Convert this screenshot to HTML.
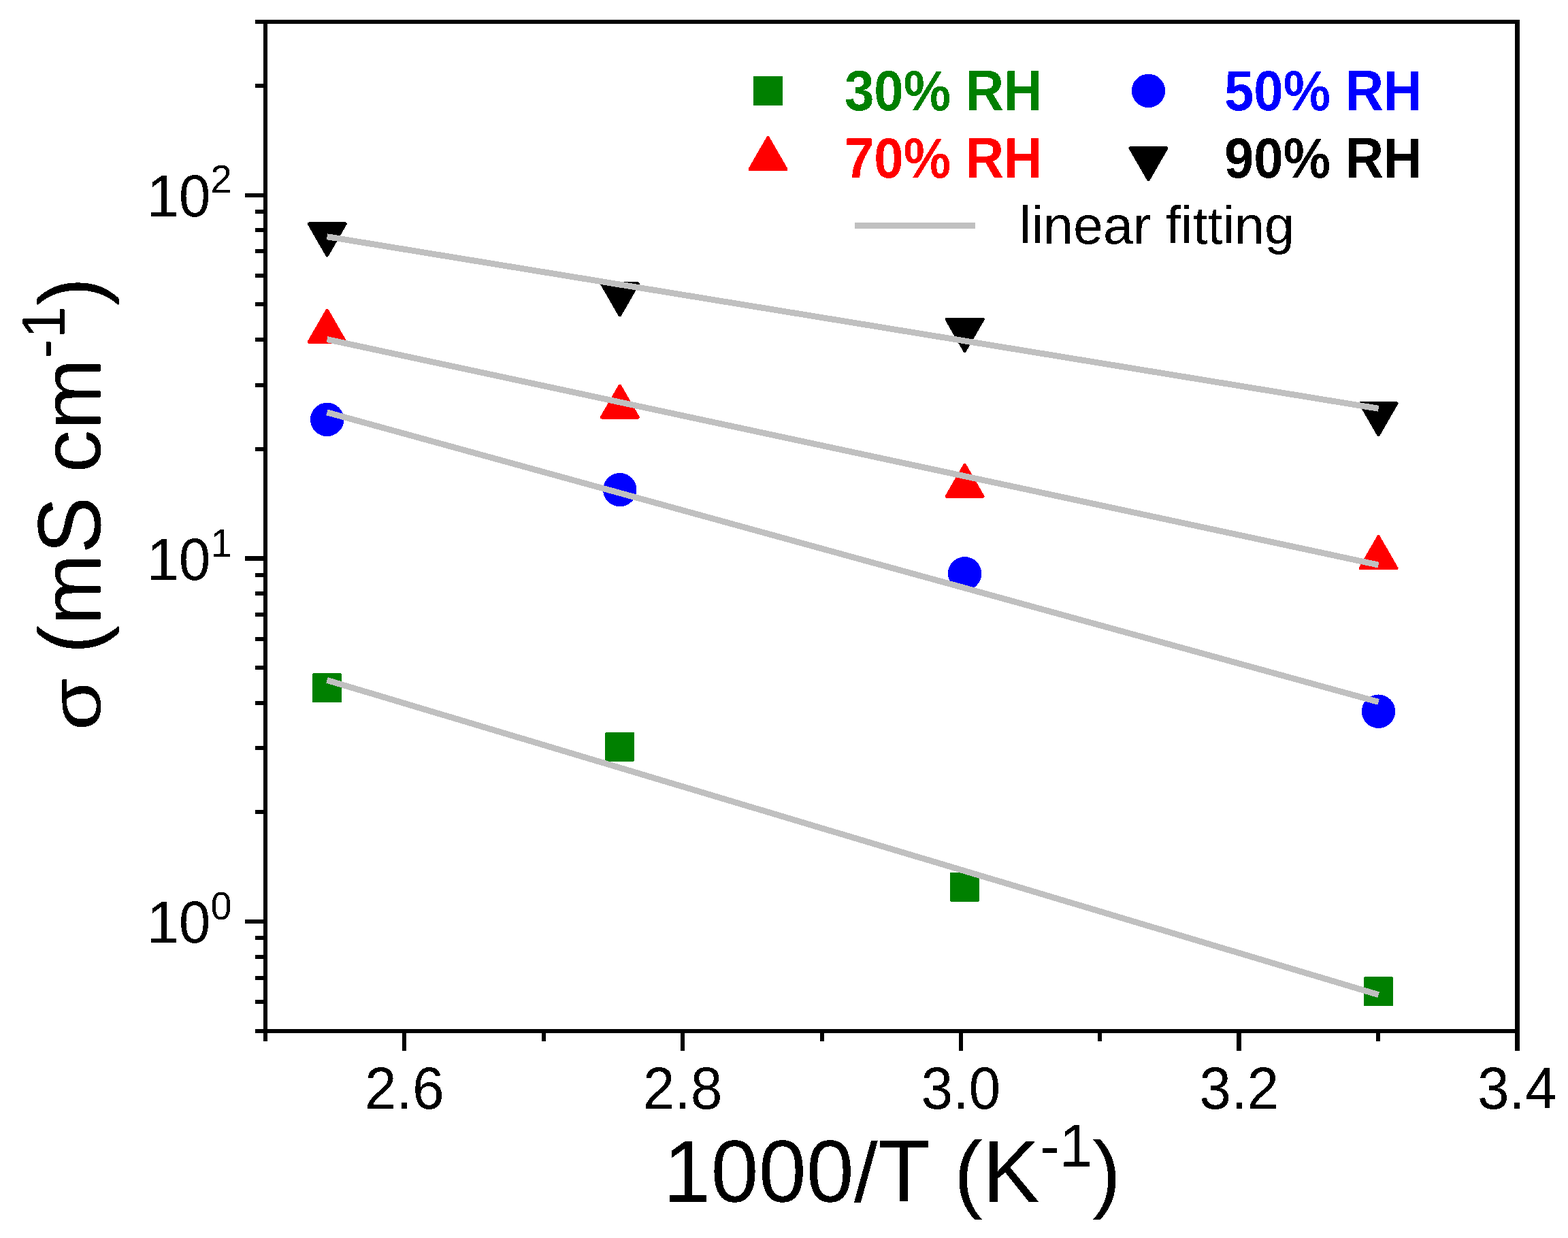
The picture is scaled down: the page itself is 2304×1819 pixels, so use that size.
<!DOCTYPE html>
<html lang="en"><head><meta charset="utf-8"><title>Conductivity vs 1000/T</title>
<style>
html,body{margin:0;padding:0;background:#fff;}
body{width:2304px;height:1819px;overflow:hidden;}
svg{display:block;}
text{font-family:"Liberation Sans",Arial,Helvetica,sans-serif;fill:#000;font-kerning:none;}
.b{font-weight:bold;}
</style></head><body>
<svg width="2304" height="1819" viewBox="0 0 2304 1819">
<defs><filter id="hard" x="0" y="0" width="2304" height="1819" filterUnits="userSpaceOnUse" color-interpolation-filters="sRGB"><feComponentTransfer><feFuncA type="discrete" tableValues="0 1"/></feComponentTransfer></filter></defs>
<rect x="0" y="0" width="2304" height="1819" fill="#ffffff"/>
<g id="points" shape-rendering="crispEdges">
<rect x="459.2" y="989.4" width="43" height="43" rx="1.5" fill="#008000"/>
<rect x="889.3" y="1075.7" width="43" height="43" rx="1.5" fill="#008000"/>
<rect x="1396.1" y="1281.7" width="43" height="43" rx="1.5" fill="#008000"/>
<rect x="2004.0" y="1435.4" width="43" height="43" rx="1.5" fill="#008000"/>
<circle cx="480.7" cy="616.4" r="24.7" fill="#0000ff"/>
<circle cx="910.8" cy="719.6" r="24.7" fill="#0000ff"/>
<circle cx="1417.6" cy="842.8" r="24.7" fill="#0000ff"/>
<circle cx="2025.5" cy="1045.2" r="24.7" fill="#0000ff"/>
<path d="M480.7 456.0 L507.4 502.4 L454.0 502.4 Z" fill="#ff0000" stroke="#ff0000" stroke-width="4.6" stroke-linejoin="round"/>
<path d="M910.8 566.9 L937.5 613.3 L884.1 613.3 Z" fill="#ff0000" stroke="#ff0000" stroke-width="4.6" stroke-linejoin="round"/>
<path d="M1417.6 683.1 L1444.3 729.5 L1390.9 729.5 Z" fill="#ff0000" stroke="#ff0000" stroke-width="4.6" stroke-linejoin="round"/>
<path d="M2025.5 788.5 L2052.2 834.9 L1998.8 834.9 Z" fill="#ff0000" stroke="#ff0000" stroke-width="4.6" stroke-linejoin="round"/>
<path d="M480.7 375.1 L507.4 328.7 L454.0 328.7 Z" fill="#000000" stroke="#000000" stroke-width="4.6" stroke-linejoin="round"/>
<path d="M910.8 463.1 L937.5 416.7 L884.1 416.7 Z" fill="#000000" stroke="#000000" stroke-width="4.6" stroke-linejoin="round"/>
<path d="M1417.6 515.7 L1444.3 469.3 L1390.9 469.3 Z" fill="#000000" stroke="#000000" stroke-width="4.6" stroke-linejoin="round"/>
<path d="M2025.5 638.9 L2052.2 592.5 L1998.8 592.5 Z" fill="#000000" stroke="#000000" stroke-width="4.6" stroke-linejoin="round"/>
</g>
<g id="fits" stroke="#c0c0c0" stroke-width="8.9" fill="none" shape-rendering="crispEdges">
<line x1="480.5" y1="999.4" x2="2025.6" y2="1461.6"/>
<line x1="480.5" y1="605.9" x2="2025.6" y2="1031.4"/>
<line x1="480.5" y1="498.6" x2="2025.6" y2="830.1"/>
<line x1="480.5" y1="347.7" x2="2025.6" y2="600.3"/>
</g>
<g id="axes" fill="#000" shape-rendering="crispEdges">
<rect x="375" y="29" width="1858" height="6"/>
<rect x="375" y="1512" width="1858" height="6"/>
<rect x="387" y="29" width="6" height="1501"/>
<rect x="2226" y="29" width="7" height="1515"/>
<rect x="375" y="1469" width="12" height="6"/>
<rect x="375" y="1434" width="12" height="6"/>
<rect x="375" y="1403" width="12" height="6"/>
<rect x="375" y="1375" width="12" height="6"/>
<rect x="360" y="1351" width="27" height="6"/>
<rect x="375" y="1190" width="12" height="6"/>
<rect x="375" y="1096" width="12" height="6"/>
<rect x="375" y="1030" width="12" height="6"/>
<rect x="375" y="978" width="12" height="6"/>
<rect x="375" y="936" width="12" height="6"/>
<rect x="375" y="900" width="12" height="6"/>
<rect x="375" y="869" width="12" height="6"/>
<rect x="375" y="842" width="12" height="6"/>
<rect x="360" y="817" width="27" height="7"/>
<rect x="375" y="657" width="12" height="6"/>
<rect x="375" y="563" width="12" height="6"/>
<rect x="375" y="496" width="12" height="6"/>
<rect x="375" y="444" width="12" height="6"/>
<rect x="375" y="402" width="12" height="6"/>
<rect x="375" y="366" width="12" height="6"/>
<rect x="375" y="335" width="12" height="6"/>
<rect x="375" y="308" width="12" height="6"/>
<rect x="360" y="284" width="27" height="6"/>
<rect x="375" y="123" width="12" height="6"/>
<rect x="591" y="1518" width="6" height="26"/>
<rect x="796" y="1518" width="6" height="12"/>
<rect x="1000" y="1518" width="6" height="26"/>
<rect x="1205" y="1518" width="6" height="12"/>
<rect x="1409" y="1518" width="6" height="26"/>
<rect x="1613" y="1518" width="6" height="12"/>
<rect x="1817" y="1518" width="7" height="26"/>
<rect x="2022" y="1518" width="6" height="12"/>
</g>
<g id="labels" filter="url(#hard)">
<g id="xticks">
<text text-anchor="middle" transform="translate(594.39 1629.00) scale(1 1.0350)" font-size="84.00">2.6</text>
<text text-anchor="middle" transform="translate(1003.17 1629.00) scale(1 1.0350)" font-size="84.00">2.8</text>
<text text-anchor="middle" transform="translate(1411.94 1629.00) scale(1 1.0350)" font-size="84.00">3.0</text>
<text text-anchor="middle" transform="translate(1820.72 1629.00) scale(1 1.0350)" font-size="84.00">3.2</text>
<text text-anchor="middle" transform="translate(2229.50 1629.00) scale(1 1.0350)" font-size="84.00">3.4</text>
</g>
<g id="yticks">
<text transform="translate(216.00 1385.00) scale(1 1.0350)" font-size="84.00">10<tspan font-size="56.00" dy="-33.33">0</tspan></text>
<text transform="translate(216.00 852.00) scale(1 1.0350)" font-size="84.00">10<tspan font-size="56.00" dy="-33.33">1</tspan></text>
<text transform="translate(216.00 317.60) scale(1 1.0350)" font-size="84.00">10<tspan font-size="56.00" dy="-33.33">2</tspan></text>
</g>
<text id="xtitle" transform="translate(974.50 1765.50)" font-size="126.00"><tspan font-size="130.16" textLength="280.30" lengthAdjust="spacingAndGlyphs">1000</tspan><tspan font-size="124.74" textLength="35.01" lengthAdjust="spacingAndGlyphs">/</tspan><tspan font-size="130.16" textLength="76.97" lengthAdjust="spacingAndGlyphs">T</tspan> (<tspan font-size="130.16" textLength="84.04" lengthAdjust="spacingAndGlyphs">K</tspan><tspan font-size="89.87" textLength="77.36" lengthAdjust="spacingAndGlyphs" dy="-52.00">-1</tspan><tspan dy="52.00">)</tspan></text>
<text id="ytitle" transform="translate(147.50 1073.50) rotate(-90)" font-size="126.00"><tspan font-size="105.21" textLength="77.77" lengthAdjust="spacingAndGlyphs">σ</tspan><tspan font-size="127.26" textLength="76.97" lengthAdjust="spacingAndGlyphs"> (</tspan><tspan font-size="124.11" textLength="104.96" lengthAdjust="spacingAndGlyphs">m</tspan><tspan font-size="131.67" textLength="84.04" lengthAdjust="spacingAndGlyphs">S</tspan><tspan font-size="124.11" textLength="202.97" lengthAdjust="spacingAndGlyphs"> cm</tspan><tspan font-size="89.87" textLength="77.36" lengthAdjust="spacingAndGlyphs" dy="-53.00">-1</tspan><tspan font-size="127.26" textLength="41.96" lengthAdjust="spacingAndGlyphs" dy="53.00">)</tspan></text>
<g id="legend" shape-rendering="crispEdges">
<rect x="1107.0" y="111.9" width="43" height="43" rx="1.5" fill="#008000"/>
<text class="b" style="fill:#008000" transform="translate(1241.00 162.00) scale(1 1.0600)" font-size="78.00">30% RH</text>
<circle cx="1687.5" cy="133.4" r="24.7" fill="#0000ff"/>
<text class="b" style="fill:#0000ff" transform="translate(1799.00 162.00) scale(1 1.0600)" font-size="78.00">50% RH</text>
<path d="M1128.5 202.3 L1155.2 248.7 L1101.8 248.7 Z" fill="#ff0000" stroke="#ff0000" stroke-width="4.6" stroke-linejoin="round"/>
<text class="b" style="fill:#ff0000" transform="translate(1241.00 261.00) scale(1 1.0600)" font-size="78.00">70% RH</text>
<path d="M1687.5 263.9 L1714.2 217.5 L1660.8 217.5 Z" fill="#000000" stroke="#000000" stroke-width="4.6" stroke-linejoin="round"/>
<text class="b" style="fill:#000000" transform="translate(1799.00 261.00) scale(1 1.0600)" font-size="78.00">90% RH</text>
<rect x="1256" y="327" width="177" height="9" fill="#c0c0c0" shape-rendering="crispEdges"/>
<text transform="translate(1498.00 358.00) scale(1 0.9800)" font-size="79.00">linear fitting</text>
</g>
</g>
</svg>
</body></html>
